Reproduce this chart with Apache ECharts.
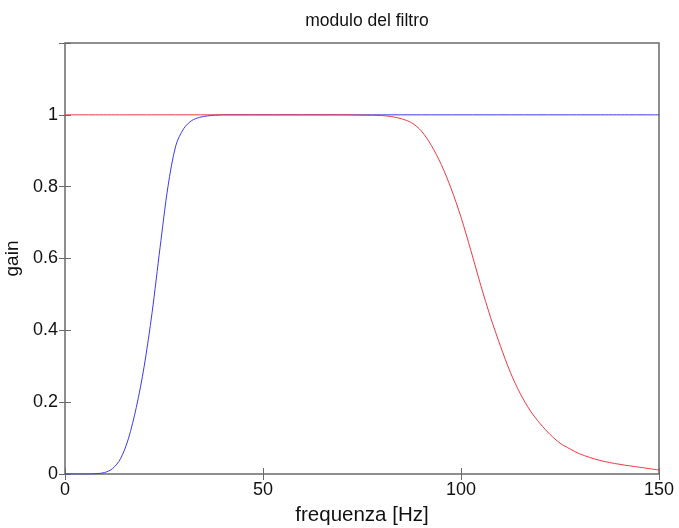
<!DOCTYPE html>
<html>
<head>
<meta charset="utf-8">
<script src="https://cdn.jsdelivr.net/npm/echarts@6/dist/echarts.min.js"></script>
<style>
  html, body { margin: 0; padding: 0; background: #fff; }
  #chart { width: 679px; height: 528px; }
</style>
</head>
<body>
<div id="chart"></div>
<script>
// Frequency samples (Hz) and gain of the high-pass filter (blue)
const hpFreq = [0, 6, 8, 10, 12, 14, 16, 18, 20, 22, 24, 26, 28, 30, 32, 34, 36, 38, 40, 50, 60, 80, 100, 125, 150];
const hpGain = [0, 0, 0.001, 0.004, 0.015, 0.042, 0.098, 0.185, 0.30, 0.45, 0.63, 0.80, 0.915, 0.962, 0.984, 0.993, 0.997, 0.999, 1, 1, 1, 1, 1, 1, 1];

// Frequency samples (Hz) and gain of the low-pass filter (red)
const lpFreq = [0, 25, 50, 70, 75, 80, 82.5, 85, 87.5, 90, 92.5, 95, 97.5, 100, 102.5, 105, 107.5, 110, 112.5, 115, 117.5, 120, 122.5, 125, 127.5, 130, 135, 140, 145, 150];
const lpGain = [1, 1, 1, 1, 0.999, 0.998, 0.995, 0.989, 0.978, 0.955, 0.915, 0.862, 0.795, 0.715, 0.622, 0.525, 0.435, 0.355, 0.282, 0.223, 0.176, 0.14, 0.11, 0.086, 0.07, 0.056, 0.038, 0.027, 0.019, 0.011];

// Axis ticks
const xTicks = [0, 50, 100, 150];
const yTicks = [0, 0.2, 0.4, 0.6, 0.8, 1];

const FONT = 'Liberation Sans';
const pairs = (xs, ys) => xs.map((x, i) => [x, ys[i]]);

const chart = echarts.init(document.getElementById('chart'), null, { renderer: 'canvas' });

const frameColor = '#6a6a6a';
const tickStyle = { show: true, inside: true, length: 6, lineStyle: { color: frameColor, width: 1 } };

chart.setOption({
  animation: false,
  backgroundColor: '#ffffff',
  title: {
    text: 'modulo del filtro',
    left: 362, textAlign: 'center', top: 7,
    textStyle: { fontFamily: FONT, fontSize: 17.5, fontWeight: 'normal', color: '#111' }
  },
  grid: {
    left: 65, right: 20, top: 43, bottom: 54,
    outerBoundsMode: 'none', containLabel: false,
    show: true, borderColor: frameColor, borderWidth: 1.5, backgroundColor: 'transparent'
  },
  xAxis: [
    {
      type: 'value', min: xTicks[0], max: xTicks[xTicks.length - 1], interval: 50,
      name: 'frequenza [Hz]', nameLocation: 'middle', nameGap: 31,
      nameTextStyle: { fontFamily: FONT, fontSize: 20.5, color: '#111' },
      axisLine: { show: false },
      axisTick: tickStyle,
      splitLine: { show: false },
      axisLabel: { fontFamily: FONT, fontSize: 18, color: '#111', margin: 7 }
    },
    {
      type: 'value', position: 'top', min: 0, max: 150, interval: 50,
      axisLine: { show: false }, axisTick: tickStyle,
      splitLine: { show: false }, axisLabel: { show: false }
    }
  ],
  yAxis: [
    {
      type: 'value', min: 0, max: 1.2, interval: 0.2,
      name: 'gain', nameLocation: 'middle', nameGap: 38,
      nameTextStyle: { fontFamily: FONT, fontSize: 19, color: '#111' },
      axisLine: { show: false },
      axisTick: tickStyle,
      splitLine: { show: false },
      axisLabel: {
        fontFamily: FONT, fontSize: 18, color: '#111', margin: 7,
        formatter: v => {
          const hit = yTicks.find(t => Math.abs(t - v) < 1e-9);
          return hit === undefined ? '' : String(hit);
        }
      }
    },
    {
      type: 'value', position: 'right', min: 0, max: 1.2, interval: 0.2,
      axisLine: { show: false }, axisTick: tickStyle,
      splitLine: { show: false }, axisLabel: { show: false }
    }
  ],
  series: [
    {
      name: 'passa-alto', type: 'line', xAxisIndex: 0, yAxisIndex: 0,
      data: pairs(hpFreq, hpGain),
      smooth: 0.3, showSymbol: false,
      lineStyle: { color: '#3a3af0', width: 1 }
    },
    {
      name: 'passa-basso', type: 'line', xAxisIndex: 0, yAxisIndex: 0,
      data: pairs(lpFreq, lpGain),
      smooth: 0.3, showSymbol: false,
      lineStyle: { color: '#ee3844', width: 1 }
    }
  ]
});
</script>
</body>
</html>
